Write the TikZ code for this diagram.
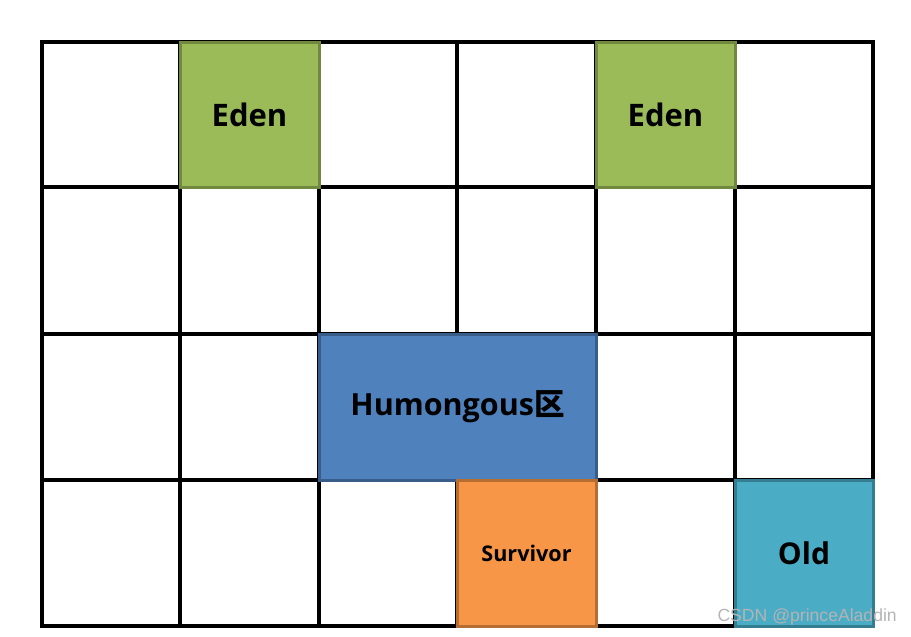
\documentclass[tikz,border=0pt]{standalone}
\usepackage{fontspec}
\setmainfont{Open Sans}
\newfontfamily\cjkfont{Noto Sans CJK SC}
\newfontfamily\wmfont{Liberation Sans}
\definecolor{edenF}{HTML}{9BBB59}
\definecolor{edenD}{HTML}{71893F}
\definecolor{humF}{HTML}{4F81BD}
\definecolor{humD}{HTML}{385D8A}
\definecolor{surF}{HTML}{F79646}
\definecolor{surD}{HTML}{B66D31}
\definecolor{oldF}{HTML}{4BACC6}
\definecolor{oldD}{HTML}{357D91}
\definecolor{wmgray}{HTML}{B4B4B4}
\tikzset{
  region/.style={draw, line width=3pt, inner sep=0pt, text=black},
  gridline/.style={line width=3.2pt},
}
\begin{document}
\begin{tikzpicture}[x=1pt,y=-1pt]
\useasboundingbox (0,0) rectangle (911,637);
% grid
\draw[gridline, line cap=rect] (42,42) rectangle (873,626);
\foreach \x in {180,319,457,596,735} \draw[gridline] (\x,42) -- (\x,626);
\foreach \y in {187,334,480} \draw[gridline] (42,\y) -- (873,\y);
% regions
\node[region, fill=edenF, draw=edenD, minimum width=139pt, minimum height=145pt, font=\fontsize{31}{34}\selectfont\bfseries] (eden1) at (249.5,114.5) {Eden};
\node[region, fill=edenF, draw=edenD, minimum width=139pt, minimum height=145pt, font=\fontsize{31}{34}\selectfont\bfseries] (eden2) at (665.5,114.5) {Eden};
\node[region, fill=humF, draw=humD, minimum width=277pt, minimum height=146pt, font=\fontsize{30.5}{34}\selectfont\bfseries] (hum) at (457.5,407) {Humongous{\cjkfont\bfseries 区}};
\node[region, fill=surF, draw=surD, minimum width=139pt, minimum height=146pt, font=\fontsize{21.6}{24}\selectfont\bfseries] (sur) at (526.5,553) {Survivor};
\node[region, fill=oldF, draw=oldD, minimum width=138pt, minimum height=146pt, font=\fontsize{30}{34}\selectfont\bfseries] (old) at (804,553) {Old};
% watermark
\node[anchor=base east, inner sep=0pt, text=wmgray, font=\wmfont\fontsize{17.6}{20}\selectfont] (wm) at (897,621) {CSDN @princeAladdin};
\end{tikzpicture}
\end{document}
